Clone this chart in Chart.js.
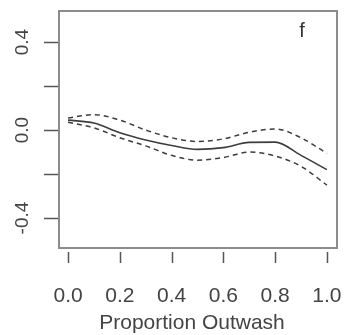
<!DOCTYPE html>
<html>
<head>
<meta charset="utf-8">
<script src="https://cdn.jsdelivr.net/npm/chart.js@4"></script>
<style>
  html, body { margin: 0; padding: 0; background: #fff; }
  #wrap { width: 347px; height: 335px; }
</style>
</head>
<body>
<div id="wrap"><canvas id="chart" width="347" height="335"></canvas></div>
<script>
// values
const xs = [0.0, 0.1, 0.2, 0.3, 0.4, 0.5, 0.6, 0.7, 0.8, 0.9, 1.0];
const fit = [0.045, 0.032, -0.012, -0.045, -0.07, -0.088, -0.08, -0.056, -0.055, -0.115, -0.18];
const upper = [0.055, 0.07, 0.045, 0.0, -0.035, -0.052, -0.04, -0.01, 0.005, -0.035, -0.106];
const lower = [0.035, 0.01, -0.035, -0.072, -0.115, -0.137, -0.125, -0.1, -0.118, -0.165, -0.25];

const xTicks = [0.0, 0.2, 0.4, 0.6, 0.8, 1.0];
const yTicks = [-0.4, -0.2, 0.0, 0.2, 0.4];
const yLabelTicks = [-0.4, 0.0, 0.4];
const xTitle = 'Proportion Outwash';
const panelLabel = 'f';

const pts = ys => xs.map((x, i) => ({ x: x, y: ys[i] }));
const lineColor = '#3d3d3d';

// box, tick marks and labels drawn R-style from the chart's scales
const rAxes = {
  id: 'rAxes',
  afterDraw(chart) {
    const ctx = chart.ctx;
    const a = chart.chartArea;
    const sx = chart.scales.x, sy = chart.scales.y;
    ctx.save();
    ctx.strokeStyle = '#8c8c8c';
    ctx.lineWidth = 2;
    ctx.strokeRect(a.left, a.top, a.right - a.left, a.bottom - a.top);

    ctx.strokeStyle = '#555';
    ctx.lineWidth = 1.5;
    xTicks.forEach(v => {
      const px = Math.round(sx.getPixelForValue(v)) + 0.5;
      ctx.beginPath(); ctx.moveTo(px, a.bottom + 4); ctx.lineTo(px, a.bottom + 15); ctx.stroke();
    });
    yTicks.forEach(v => {
      const py = Math.round(sy.getPixelForValue(v)) + 0.5;
      ctx.beginPath(); ctx.moveTo(a.left - 15, py); ctx.lineTo(a.left - 1, py); ctx.stroke();
    });

    ctx.fillStyle = '#444';
    ctx.font = '21px "Liberation Sans", Arial, sans-serif';
    ctx.textAlign = 'center';
    ctx.textBaseline = 'middle';
    xTicks.forEach(v => ctx.fillText(v.toFixed(1), sx.getPixelForValue(v), 296));
    ctx.fillText(xTitle, 192, 323);

    ctx.font = '19px "Liberation Sans", Arial, sans-serif';
    yLabelTicks.forEach(v => {
      ctx.save();
      ctx.translate(23, sy.getPixelForValue(v));
      ctx.rotate(-Math.PI / 2);
      ctx.fillText(v.toFixed(1), 0, 0);
      ctx.restore();
    });

    ctx.font = '20px "Liberation Sans", Arial, sans-serif';
    ctx.fillStyle = '#333';
    ctx.fillText(panelLabel, 302, 31);
    ctx.restore();
  }
};

new Chart(document.getElementById('chart'), {
  type: 'line',
  data: {
    datasets: [
      { data: pts(fit), borderColor: lineColor, borderWidth: 1.6, pointRadius: 0, cubicInterpolationMode: 'monotone' },
      { data: pts(upper), borderColor: lineColor, borderWidth: 1.5, borderDash: [5, 4], pointRadius: 0, cubicInterpolationMode: 'monotone' },
      { data: pts(lower), borderColor: lineColor, borderWidth: 1.5, borderDash: [5, 4], pointRadius: 0, cubicInterpolationMode: 'monotone' }
    ]
  },
  plugins: [rAxes],
  options: {
    responsive: false,
    animation: false,
    layout: { padding: { left: 59, right: 10, top: 11, bottom: 87 } },
    plugins: { legend: { display: false }, tooltip: { enabled: false } },
    scales: {
      x: { type: 'linear', min: -0.035, max: 1.039, display: false },
      y: { type: 'linear', min: -0.536, max: 0.541, display: false }
    }
  }
});
</script>
</body>
</html>
